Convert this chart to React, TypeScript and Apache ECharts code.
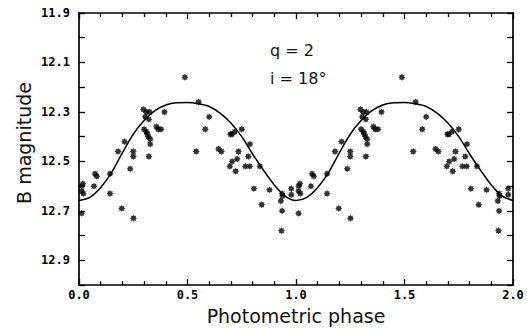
import React, { useEffect, useRef } from "react";
import * as echarts from "echarts";

// Observed points, phase 0..1 (the plot repeats them at phase + 1)
const pointPhase = [
  0.012, 0.018, 0.012, 0.02, 0.012,
  0.069, 0.074, 0.082,
  0.143, 0.143,
  0.18, 0.21, 0.197,
  0.236, 0.25, 0.25, 0.251,
  0.297, 0.31, 0.325, 0.305, 0.322,
  0.3, 0.31, 0.315, 0.32, 0.328,
  0.328, 0.322,
  0.357, 0.365, 0.378,
  0.394,
  0.488,
  0.551,
  0.6, 0.582, 0.54,
  0.643, 0.656,
  0.698, 0.705, 0.718, 0.75,
  0.735,
  0.729, 0.706, 0.695, 0.722,
  0.78, 0.767, 0.787,
  0.788,
  0.834, 0.806, 0.842, 0.878,
  0.936, 0.93, 0.936, 0.933, 0.938,
  0.978, 0.978,
];
const pointMag = [
  12.6, 12.59, 12.62, 12.63, 12.71,
  12.6, 12.55, 12.56,
  12.55, 12.63,
  12.46, 12.42, 12.69,
  12.53, 12.46, 12.48, 12.73,
  12.29, 12.3, 12.3, 12.32, 12.33,
  12.37, 12.38, 12.39, 12.4, 12.41,
  12.43, 12.48,
  12.36, 12.37, 12.37,
  12.3,
  12.16,
  12.26,
  12.32, 12.37, 12.46,
  12.45, 12.46,
  12.39, 12.39, 12.38, 12.37,
  12.46,
  12.49, 12.5, 12.52, 12.54,
  12.48, 12.52, 12.52,
  12.43,
  12.52, 12.61, 12.675, 12.615,
  12.63, 12.66, 12.7, 12.78, 12.64,
  12.61, 12.635,
];

// Model light curve, phase 0..1 (repeated at phase + 1)
const curvePhase = [
  0.0, 0.05, 0.1, 0.15, 0.2, 0.25, 0.3, 0.35, 0.4, 0.45, 0.5,
  0.55, 0.6, 0.65, 0.7, 0.75, 0.8, 0.85, 0.9, 0.95, 1.0,
];
const curveMag = [
  12.658, 12.645, 12.605, 12.545, 12.465, 12.39, 12.335, 12.295, 12.272, 12.263, 12.262,
  12.267, 12.278, 12.305, 12.345, 12.4, 12.47, 12.535, 12.595, 12.64, 12.658,
];

const xTickLabels = ["0.0", "0.5", "1.0", "1.5", "2.0"];
const yLabelValues = ["11.9", "12.1", "12.3", "12.5", "12.7", "12.9"];

const annotations = ["q = 2", "i = 18°"];
const xTitle = "Photometric phase";
const yTitle = "B magnitude";

// asterisk-like star symbol
const STAR = (() => {
  let d = "";
  const n = 16;
  for (let i = 0; i < n; i++) {
    const r = i % 2 === 0 ? 10 : 6.8;
    const a = (i * Math.PI * 2) / n;
    const x = (r * Math.sin(a)).toFixed(2);
    const y = (-r * Math.cos(a)).toFixed(2);
    d += (i === 0 ? "M" : "L") + x + "," + y + " ";
  }
  return "path://" + d + "Z";
})();

export default function App() {
  const ref = useRef<HTMLDivElement>(null);
  useEffect(() => {
    document.body.style.margin = "0";
    if (!ref.current) return;
    const chart = echarts.init(ref.current, null, { renderer: "svg" });

    const points: number[][] = [];
    for (let k = 0; k < 2; k++) {
      pointPhase.forEach((p, i) => points.push([p + k, pointMag[i]]));
    }
    const curve: number[][] = [];
    curvePhase.forEach((p, i) => curve.push([p, curveMag[i]]));
    curvePhase.forEach((p, i) => {
      if (i > 0) curve.push([p + 1, curveMag[i]]);
    });

    const axisLine = { show: true, onZero: false, lineStyle: { color: "#000", width: 1.7 } };
    const tickStyle = { color: "#000", width: 1.3 };
    const labelFont = {
      fontFamily: "DejaVu Sans Mono",
      fontWeight: "bold" as const,
      fontSize: 12,
      color: "#000",
    };

    const xCommon = {
      type: "value" as const,
      min: 0,
      max: 2,
      interval: 0.5,
      axisLine,
      axisTick: { show: true, inside: true, length: 6, lineStyle: tickStyle },
      minorTick: { show: true, splitNumber: 5, length: 4, lineStyle: tickStyle },
      splitLine: { show: false },
      minorSplitLine: { show: false },
    };
    const yCommon = {
      type: "value" as const,
      min: 11.9,
      max: 13.0,
      interval: 0.1,
      inverse: true,
      axisLine,
      axisTick: { show: true, inside: true, length: 6, lineStyle: tickStyle },
      splitLine: { show: false },
    };

    chart.setOption({
      animation: false,
      backgroundColor: "#fff",
      grid: { left: 79, right: 14, top: 13, bottom: 42, containLabel: false },
      xAxis: [
        {
          ...xCommon,
          position: "bottom",
          name: xTitle,
          nameLocation: "middle",
          nameGap: 16,
          nameTextStyle: { fontFamily: "DejaVu Sans", fontSize: 19, color: "#111" },
          axisLabel: {
            ...labelFont,
            margin: 4,
            formatter: (v: number) => {
              const s = v.toFixed(1);
              return xTickLabels.includes(s) ? s : "";
            },
          },
        },
        { ...xCommon, position: "top", axisLabel: { show: false } },
      ],
      yAxis: [
        {
          ...yCommon,
          position: "left",
          axisLabel: {
            ...labelFont,
            margin: 9,
            formatter: (v: number) => {
              const s = v.toFixed(1);
              return yLabelValues.includes(s) ? s : "";
            },
          },
        },
        { ...yCommon, position: "right", axisLabel: { show: false } },
      ],
      graphic: [
        {
          type: "text",
          x: 24,
          y: 143,
          rotation: Math.PI / 2,
          style: {
            text: yTitle,
            align: "center",
            verticalAlign: "middle",
            fontFamily: "DejaVu Sans",
            fontSize: 19,
            fill: "#111",
          },
        },
        {
          type: "text",
          x: 270,
          y: 50,
          style: {
            text: annotations[0],
            align: "left",
            verticalAlign: "middle",
            fontFamily: "DejaVu Sans",
            fontSize: 16,
            fill: "#111",
          },
        },
        {
          type: "text",
          x: 270,
          y: 78,
          style: {
            text: annotations[1],
            align: "left",
            verticalAlign: "middle",
            fontFamily: "DejaVu Sans",
            fontSize: 16,
            fill: "#111",
          },
        },
      ],
      series: [
        {
          type: "line",
          xAxisIndex: 0,
          yAxisIndex: 0,
          data: curve,
          showSymbol: false,
          smooth: 0.3,
          lineStyle: { color: "#000", width: 1.5 },
          z: 2,
        },
        {
          type: "scatter",
          xAxisIndex: 0,
          yAxisIndex: 0,
          data: points,
          symbol: STAR,
          symbolSize: 7,
          itemStyle: { color: "#000" },
          z: 3,
        },
      ],
    });
    return () => chart.dispose();
  }, []);
  return <div ref={ref} style={{ width: 527, height: 330 }} />;
}
